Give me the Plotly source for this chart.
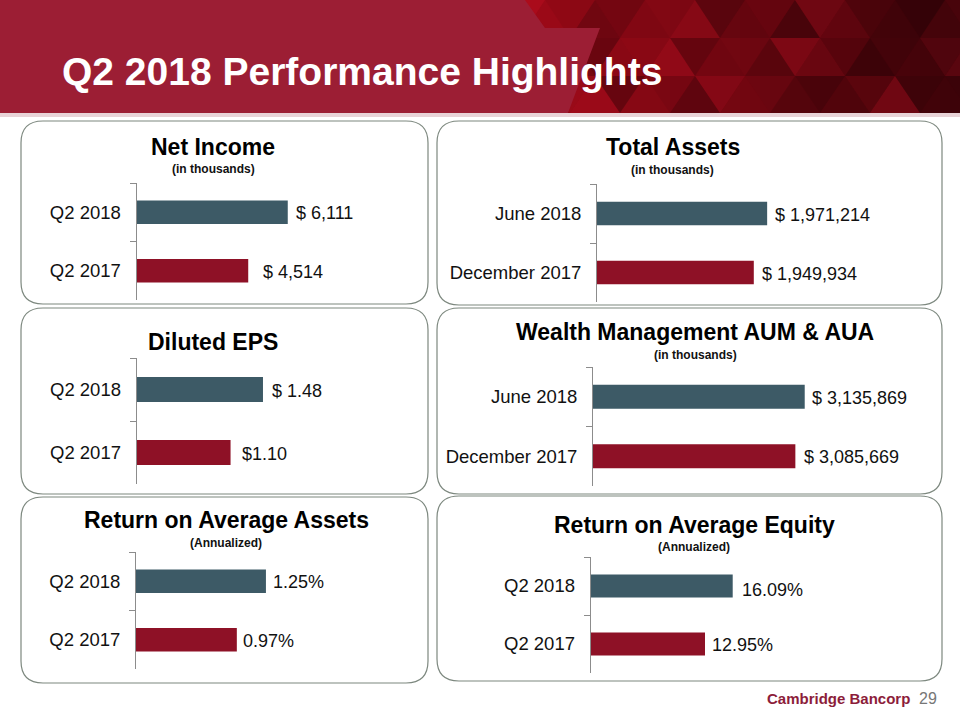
import plotly.graph_objects as go

W, H = 960, 720

# ---------------- data ----------------
panel_titles = ["Net Income", "Total Assets", "Diluted EPS",
                "Wealth Management AUM & AUA",
                "Return on Average Assets", "Return on Average Equity"]
panel_subtitles = ["(in thousands)", "(in thousands)", "", "(in thousands)",
                   "(Annualized)", "(Annualized)"]

net_income_cats = ["Q2 2018", "Q2 2017"]
net_income_vals = [6111, 4514]
net_income_text = ["$ 6,111", "$ 4,514"]

total_assets_cats = ["June 2018", "December 2017"]
total_assets_vals = [1971214, 1949934]
total_assets_text = ["$ 1,971,214", "$ 1,949,934"]

eps_cats = ["Q2 2018", "Q2 2017"]
eps_vals = [1.48, 1.10]
eps_text = ["$ 1.48", "$1.10"]

aum_cats = ["June 2018", "December 2017"]
aum_vals = [3135869, 3085669]
aum_text = ["$ 3,135,869", "$ 3,085,669"]

roa_cats = ["Q2 2018", "Q2 2017"]
roa_vals = [1.25, 0.97]
roa_text = ["1.25%", "0.97%"]

roe_cats = ["Q2 2018", "Q2 2017"]
roe_vals = [16.09, 12.95]
roe_text = ["16.09%", "12.95%"]

slide_title = "Q2 2018 Performance Highlights"
footer_brand = "Cambridge Bancorp"
page_number = "29"

bar_colors = ["#3D5A66", "#8E1126"]

series = [
    (net_income_cats, net_income_vals, net_income_text),
    (total_assets_cats, total_assets_vals, total_assets_text),
    (eps_cats, eps_vals, eps_text),
    (aum_cats, aum_vals, aum_text),
    (roa_cats, roa_vals, roa_text),
    (roe_cats, roe_vals, roe_text),
]

# ---------------- layout (pixel geometry) ----------------
panels = [
    dict(box=(21, 121, 428, 304), ax=136.5, ay=(183, 300), xmin=0, per_px=40.4,
         t=(213, 147), s=(213, 169), gaps=(7, 14), ysh=(-1, -1)),
    dict(box=(437, 121, 942, 305), ax=597, ay=(184, 302), xmin=1700000, per_px=1594,
         t=(672.5, 147), s=(672, 170), gaps=(7, 7), ysh=(-1, -1)),
    dict(box=(21, 308, 428, 494), ax=136.7, ay=(358, 484), xmin=0, per_px=0.01172,
         t=(213, 342), s=None, gaps=(8, 10.5), ysh=(-1, -1)),
    dict(box=(437, 308, 942, 494), ax=593, ay=(367, 486), xmin=2000000, per_px=5365,
         t=(695, 332), s=(695, 355), gaps=(6, 8), ysh=(-1, -1)),
    dict(box=(21, 497, 428, 683), ax=136, ay=(552, 669), xmin=0, per_px=0.00962,
         t=(226, 520), s=(226, 543), gaps=(6, 5), ysh=(-1, -1)),
    dict(box=(437, 496, 942, 681), ax=590.7, ay=(557, 673), xmin=0, per_px=0.1133,
         t=(694.7, 525), s=(694.3, 547), gaps=(8, 6), ysh=(-4, -1)),
]


def px(x):
    return x / W


def py(y):
    return 1 - y / H


FONT = "Arial, Liberation Sans, sans-serif"

fig = go.Figure()
shapes = []
annotations = []
layout_axes = {}

# ---------------- header ----------------
shapes.append(dict(type="rect", xref="paper", yref="paper", x0=0, x1=1,
                   y0=py(113), y1=1, fillcolor="#9C1E34", line_width=0, layer="below"))
# dark gradient on the right
n_strips = 44
for k in range(n_strips):
    x0 = 520 + k * 10
    f = k / (n_strips - 1)
    r = int(160 - 95 * f)
    g = int(10 - 6 * f)
    b = int(24 - 14 * f)
    shapes.append(dict(type="rect", xref="paper", yref="paper", x0=px(x0), x1=px(x0 + 10.5),
                       y0=py(113), y1=1, fillcolor=f"rgb({r},{g},{b})", line_width=0,
                       layer="below"))
# triangle texture
ops = [0.0, 0.14, 0.05, 0.22, 0.09, 0.17, 0.03, 0.26]
for r in range(3):
    y0 = r * 38
    y1 = min(y0 + 38, 113)
    off = (r % 2) * 25
    for k in range(-1, 10):
        xa = 520 + off + k * 50
        tris = [((xa, y1), (xa + 50, y1), (xa + 25, y0)),
                ((xa + 25, y0), (xa + 75, y0), (xa + 50, y1))]
        for j, tri in enumerate(tris):
            op = ops[(r * 5 + k * 3 + j * 2) % len(ops)]
            if op == 0:
                continue
            col = f"rgba(0,0,0,{op})" if (k + j + r) % 3 else f"rgba(210,20,40,{op})"
            path = "M {:.5f},{:.5f} L {:.5f},{:.5f} L {:.5f},{:.5f} Z".format(
                px(tri[0][0]), py(tri[0][1]), px(tri[1][0]), py(tri[1][1]),
                px(tri[2][0]), py(tri[2][1]))
            shapes.append(dict(type="path", xref="paper", yref="paper", path=path,
                               fillcolor=col, line_width=0, layer="below"))
# light left region boundary
light = [(0, 0), (525, 0), (545, 28), (600, 28), (568, 113), (0, 113)]
path = "M " + " L ".join("{:.5f},{:.5f}".format(px(a), py(b)) for a, b in light) + " Z"
shapes.append(dict(type="path", xref="paper", yref="paper", path=path,
                   fillcolor="#9C1E34", line_width=0, layer="below"))
shapes.append(dict(type="rect", xref="paper", yref="paper", x0=0, x1=1,
                   y0=py(117), y1=py(113), fillcolor="#E8D3D7", line_width=0, layer="below"))

annotations.append(dict(text=f"<b>{slide_title}</b>", xref="paper", yref="paper",
                        x=px(60), y=py(72), xanchor="left", yanchor="middle",
                        showarrow=False, font=dict(family=FONT, size=39, color="white")))

# ---------------- panels ----------------
R = 22


def rounded(x0, y0, x1, y1, r):
    rx, ry = r / W, r / H
    X0, X1 = px(x0), px(x1)
    Y0, Y1 = py(y0), py(y1)  # Y0 top (larger), Y1 bottom
    return (f"M {X0+rx},{Y0} L {X1-rx},{Y0} Q {X1},{Y0} {X1},{Y0-ry} "
            f"L {X1},{Y1+ry} Q {X1},{Y1} {X1-rx},{Y1} "
            f"L {X0+rx},{Y1} Q {X0},{Y1} {X0},{Y1+ry} "
            f"L {X0},{Y0-ry} Q {X0},{Y0} {X0+rx},{Y0} Z")


for i, (p, (cats, vals, texts)) in enumerate(zip(panels, series)):
    n = i + 1
    xa = "x" if n == 1 else f"x{n}"
    ya = "y" if n == 1 else f"y{n}"
    x0, y0, x1, y1 = p["box"]
    shapes.append(dict(type="path", xref="paper", yref="paper",
                       path=rounded(x0, y0, x1, y1, R),
                       line=dict(color="#7D887F", width=1.2), fillcolor="rgba(0,0,0,0)",
                       layer="below"))

    fig.add_trace(go.Bar(x=vals, y=cats, orientation="h", marker_color=bar_colors,
                         marker_line_width=0, width=0.4, xaxis=xa, yaxis=ya,
                         showlegend=False, hoverinfo="skip"))

    right = x1 - 25
    layout_axes["xaxis" if n == 1 else f"xaxis{n}"] = dict(
        domain=[px(p["ax"]), px(right)],
        range=[p["xmin"], p["xmin"] + p["per_px"] * (right - p["ax"])],
        visible=False, anchor=ya, fixedrange=True)
    layout_axes["yaxis" if n == 1 else f"yaxis{n}"] = dict(
        domain=[py(p["ay"][1]), py(p["ay"][0])],
        anchor=xa, type="category", categoryorder="array", categoryarray=cats,
        range=[len(cats) - 0.5, -0.5],
        showline=True, linecolor="#8C8C8C", linewidth=1,
        ticks="outside", tickson="boundaries", ticklen=6, tickcolor="#8C8C8C",
        tickfont=dict(family=FONT, size=18.5, color="#111111"),
        ticklabelstandoff=11, showgrid=False, zeroline=False, fixedrange=True)

    for c, v, t, g, ys in zip(cats, vals, texts, p["gaps"], p["ysh"]):
        annotations.append(dict(text=t, x=v, y=c, xref=xa, yref=ya, xanchor="left",
                                yanchor="middle", xshift=g - 1, yshift=ys, showarrow=False,
                                font=dict(family=FONT, size=18, color="#111111")))

    annotations.append(dict(text=f"<b>{panel_titles[i]}</b>", xref="paper", yref="paper",
                            x=px(p["t"][0]), y=py(p["t"][1]), xanchor="center",
                            yanchor="middle", showarrow=False,
                            font=dict(family=FONT, size=23, color="#000000")))
    if p["s"] is not None and panel_subtitles[i]:
        annotations.append(dict(text=f"<b>{panel_subtitles[i]}</b>", xref="paper",
                                yref="paper", x=px(p["s"][0]), y=py(p["s"][1]),
                                xanchor="center", yanchor="middle", showarrow=False,
                                font=dict(family=FONT, size=12, color="#111111")))

# ---------------- footer ----------------
annotations.append(dict(text=f"<b>{footer_brand}</b>", xref="paper", yref="paper",
                        x=px(912), y=py(698), xanchor="right", yanchor="middle",
                        showarrow=False, font=dict(family=FONT, size=15, color="#8C1D3A")))
annotations.append(dict(text=page_number, xref="paper", yref="paper",
                        x=px(917), y=py(698), xanchor="left", yanchor="middle",
                        showarrow=False, font=dict(family=FONT, size=16, color="#777777")))

fig.update_layout(
    width=W, height=H, autosize=False,
    margin=dict(l=0, r=0, t=0, b=0, pad=0),
    paper_bgcolor="white", plot_bgcolor="rgba(0,0,0,0)",
    font=dict(family=FONT),
    shapes=shapes, annotations=annotations, showlegend=False,
    **layout_axes,
)

fig.write_html("out.html", config={"displayModeBar": False})

# remove the browser's default page margin so the figure sits at (0, 0)
with open("out.html", "r", encoding="utf-8") as fh:
    html = fh.read()
html = html.replace("<head>", "<head><style>html,body{margin:0;padding:0;overflow:hidden;}</style>", 1)
with open("out.html", "w", encoding="utf-8") as fh:
    fh.write(html)
